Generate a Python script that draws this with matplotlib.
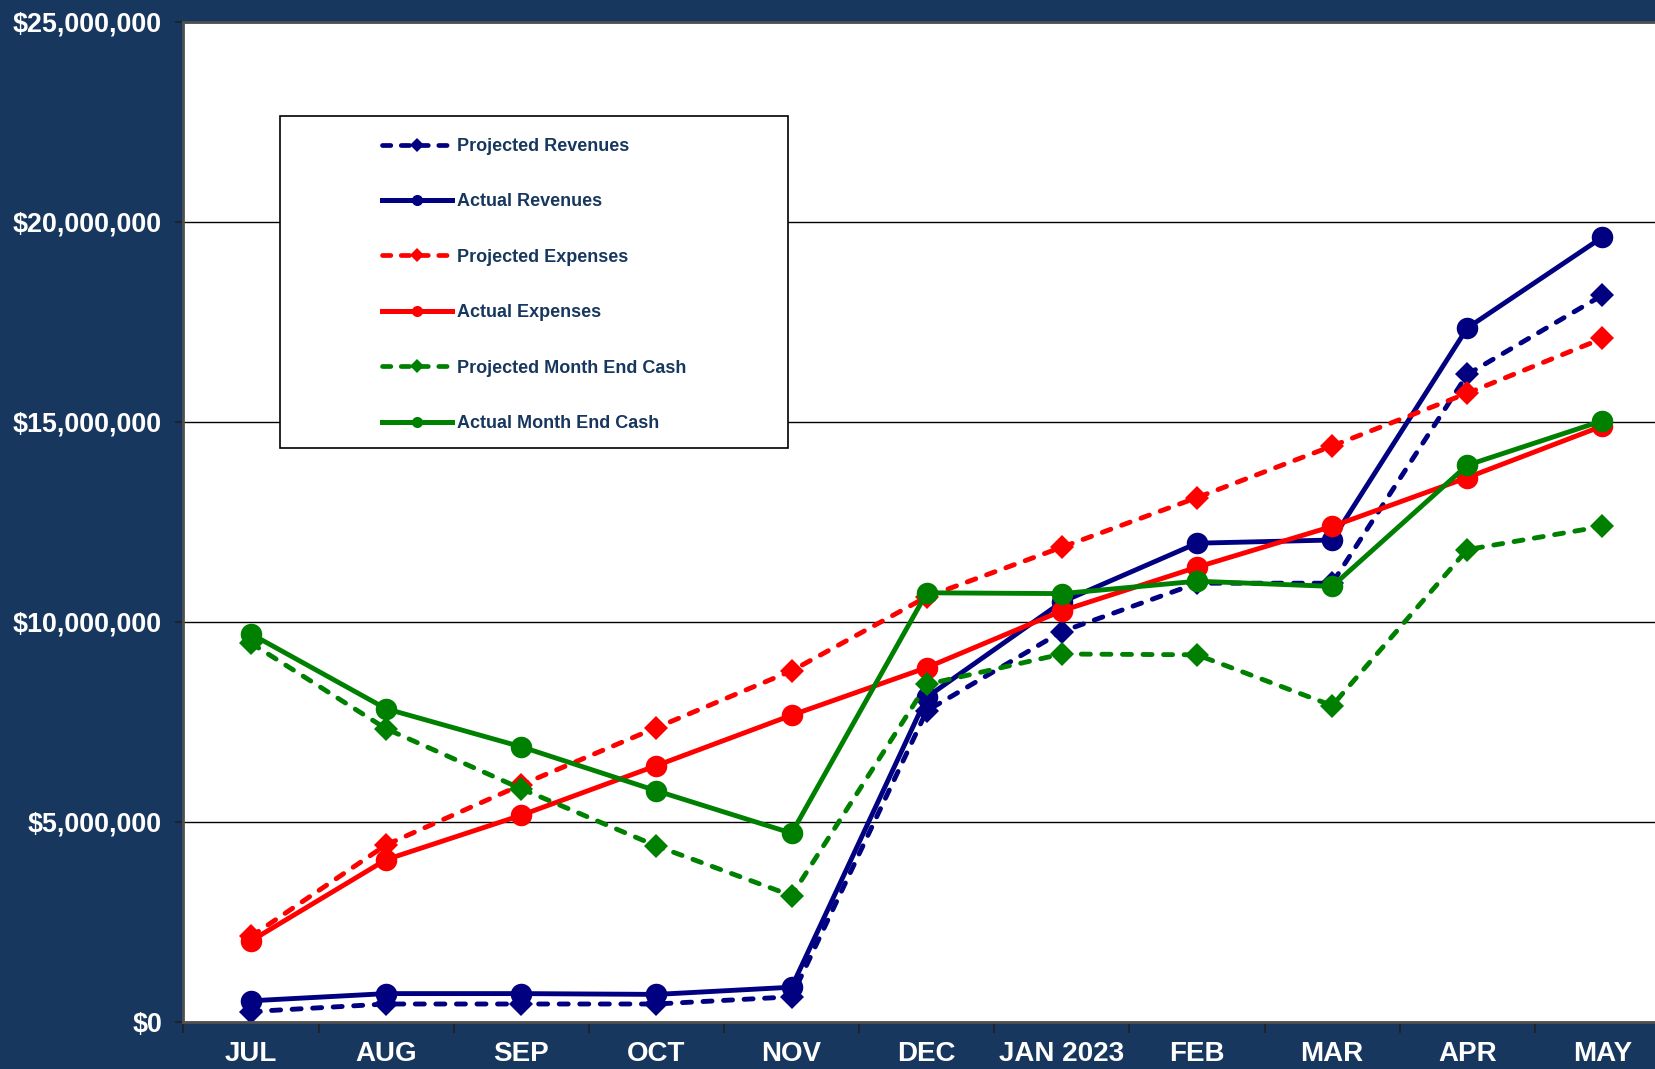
import matplotlib
matplotlib.use("Agg")
import matplotlib.pyplot as plt
from matplotlib.lines import Line2D
from matplotlib.patches import Rectangle
from matplotlib.ticker import FuncFormatter
import numpy as np

months = ["JUL", "AUG", "SEP", "OCT", "NOV", "DEC", "JAN 2023", "FEB", "MAR", "APR", "MAY"]

projected_revenues = [260000, 450000, 450000, 450000, 630000, 7780000, 9760000, 10970000, 10970000, 16190000, 18170000]
actual_revenues = [530000, 710000, 710000, 690000, 870000, 8120000, 10500000, 11970000, 12050000, 17350000, 19620000]
projected_expenses = [2140000, 4430000, 5930000, 7360000, 8780000, 10630000, 11870000, 13110000, 14400000, 15720000, 17090000]
actual_expenses = [2030000, 4060000, 5170000, 6410000, 7670000, 8860000, 10280000, 11370000, 12390000, 13610000, 14900000]
projected_cash = [9470000, 7330000, 5830000, 4400000, 3160000, 8440000, 9200000, 9180000, 7910000, 11810000, 12390000]
actual_cash = [9700000, 7830000, 6880000, 5780000, 4720000, 10730000, 10710000, 11020000, 10890000, 13920000, 15030000]

series_labels = ["Projected Revenues", "Actual Revenues", "Projected Expenses",
                 "Actual Expenses", "Projected Month End Cash", "Actual Month End Cash"]

NAVY = "#000080"
RED = "#FF0000"
GREEN = "#008000"
BG = "#17375E"
LEGTXT = "#17375E"

plt.rcParams["lines.scale_dashes"] = False

W, H = 1656, 1069
fig = plt.figure(figsize=(W / 100, H / 100), dpi=100)
fig.patch.set_facecolor(BG)

ax_left = 183.5 / W
ax_bottom = (H - 1022) / H
ax_w = (1670 - 183.5) / W
ax_h = (1022 - 22) / H
ax = fig.add_axes([ax_left, ax_bottom, ax_w, ax_h])
ax.set_facecolor("white")

x = np.arange(len(months))

data = [projected_revenues, actual_revenues, projected_expenses, actual_expenses, projected_cash, actual_cash]
colors = [NAVY, NAVY, RED, RED, GREEN, GREEN]
projected = [True, False, True, False, True, False]

DASH = (0, (6.5, 8.3))
for i, (vals, c, proj) in enumerate(zip(data, colors, projected)):
    if proj:
        ax.plot(x, vals, color=c, lw=3.5, linestyle=DASH, dash_capstyle="round",
                marker="D", markersize=12.5, markeredgewidth=0, zorder=2 + i * 0.01)
    else:
        ax.plot(x, vals, color=c, lw=3.5, marker="o", markersize=15.5,
                markeredgewidth=0, zorder=2 + i * 0.01)

ax.set_xlim(-0.5, len(months) - 0.5)
ax.set_ylim(0, 25000000)
ax.set_yticks(np.arange(0, 25000001, 5000000))
ax.yaxis.set_major_formatter(FuncFormatter(lambda v, p: "${:,.0f}".format(v)))

ax.set_xticks(np.arange(-0.5, len(months), 1.0))
ax.set_xticklabels([])
ax.set_xticks(x, minor=True)
ax.set_xticklabels(months, minor=True)

ax.tick_params(axis="x", which="major", direction="out", length=8, width=1.2, color="#202020")
ax.tick_params(axis="x", which="minor", length=0, pad=14, labelcolor="white")
ax.tick_params(axis="y", which="major", direction="out", length=6, width=1.2, color="#202020",
               pad=9.5, labelcolor="white")

for lbl in ax.get_xticklabels(minor=True):
    lbl.set_family(["Liberation Sans", "DejaVu Sans"])
    lbl.set_fontweight("bold")
    lbl.set_fontsize(20)
for lbl in ax.get_yticklabels():
    lbl.set_family(["Liberation Sans", "DejaVu Sans"])
    lbl.set_fontweight("bold")
    lbl.set_fontsize(19.4)

ax.grid(axis="y", color="black", linewidth=1.0)
ax.set_axisbelow(True)
for side in ["left", "bottom", "top"]:
    ax.spines[side].set_color("#505050")
    ax.spines[side].set_linewidth(2)
ax.spines["right"].set_visible(False)

# legend frame
rect = Rectangle((280 / W, 1 - 448 / H), 508 / W, 332 / H, transform=fig.transFigure,
                 facecolor="white", edgecolor="black", linewidth=1.2, zorder=4, clip_on=False)
ax.add_artist(rect)

handles = []
for c, proj in zip(colors, projected):
    if proj:
        handles.append(Line2D([], [], color=c, lw=3.4, linestyle=(0, (6, 7.5)),
                              dash_capstyle="round", marker="D", markersize=7, markeredgewidth=0))
    else:
        handles.append(Line2D([], [], color=c, lw=3.6, marker="o", markersize=8, markeredgewidth=0))

leg = ax.legend(handles, series_labels, loc="center left",
                bbox_to_anchor=(372.5 / W, 1 - 285 / H), bbox_transform=fig.transFigure,
                frameon=False, borderpad=0, handlelength=3.9, handletextpad=0.3,
                labelspacing=2.13, numpoints=1,
                prop={"family": ["Liberation Sans", "DejaVu Sans"], "weight": "bold", "size": 13})
leg.set_zorder(5)
for t in leg.get_texts():
    t.set_color(LEGTXT)

fig.savefig("out.png", dpi=100, facecolor=fig.get_facecolor())
